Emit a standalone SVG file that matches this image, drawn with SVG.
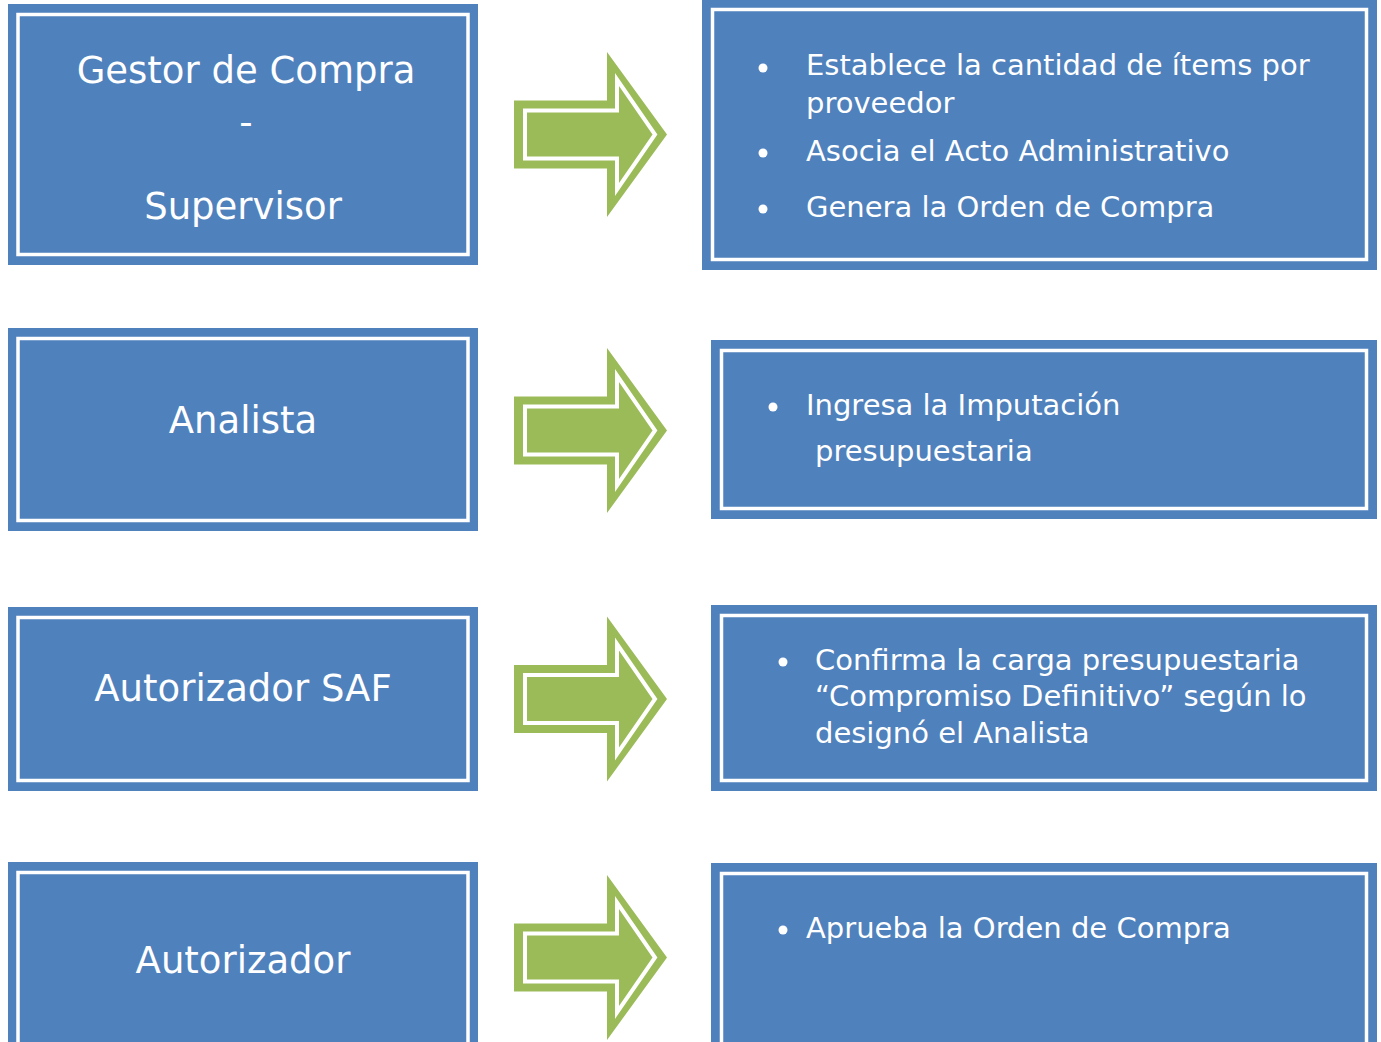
<svg xmlns="http://www.w3.org/2000/svg" xmlns:xlink="http://www.w3.org/1999/xlink" width="1381" height="1042" viewBox="0 0 1381 1042">
<style>
.box{fill:#4F81BD;}
.line{fill:none;stroke:#FFFFFF;stroke-width:3.5;}
.role{font-family:"DejaVu Sans",Verdana,sans-serif;font-size:37px;fill:#FFFFFF;text-anchor:middle;}
.item{font-family:"DejaVu Sans",Verdana,sans-serif;font-size:29px;fill:#FFFFFF;}
.dot{fill:#FFFFFF;}
.arr{fill:#9BBB59;}
.arrline{fill:none;stroke:#FFFFFF;stroke-width:4;stroke-linejoin:miter;}
</style>
<defs>
<g id="arrow">
<polygon class="arr" points="514,-34 607,-34 607,-82.5 667,0 607,82.5 607,34 514,34"/>
<polygon class="arrline" points="525,-24 617,-24 617,-55 655,0 617,55 617,24 525,24"/>
</g>
</defs>
<rect width="1381" height="1042" fill="#FFFFFF"/>

<g id="connectors">
<use xlink:href="#arrow" href="#arrow" transform="translate(0,134.5)"/>
<use xlink:href="#arrow" href="#arrow" transform="translate(0,430.5)"/>
<use xlink:href="#arrow" href="#arrow" transform="translate(0,699)"/>
<use xlink:href="#arrow" href="#arrow" transform="translate(0,957.5)"/>
</g>

<g id="role-gestor">
<rect class="box" x="8" y="4" width="470" height="261"/>
<rect class="line" x="18" y="14.5" width="450" height="240"/>
<text class="role" x="246" y="83">Gestor de Compra</text>
<text class="role" x="246" y="135">-</text>
<text class="role" x="243" y="219">Supervisor</text>
</g>

<g id="role-analista">
<rect class="box" x="8" y="328" width="470" height="203"/>
<rect class="line" x="18" y="338.5" width="450" height="182"/>
<text class="role" x="243" y="433">Analista</text>
</g>

<g id="role-saf">
<rect class="box" x="8" y="607" width="470" height="184"/>
<rect class="line" x="18" y="617.5" width="450" height="163"/>
<text class="role" x="243" y="701">Autorizador SAF</text>
</g>

<g id="role-autorizador">
<rect class="box" x="8" y="862" width="470" height="200"/>
<rect class="line" x="18" y="872.5" width="450" height="180"/>
<text class="role" x="243" y="973">Autorizador</text>
</g>

<g id="tasks-gestor">
<rect class="box" x="702" y="-1" width="675" height="271"/>
<rect class="line" x="712.5" y="9.5" width="654" height="250"/>
<circle class="dot" cx="763" cy="68" r="4.5"/>
<text class="item" x="806" y="75">Establece la cantidad de ítems por</text>
<text class="item" x="806" y="113">proveedor</text>
<circle class="dot" cx="763" cy="153" r="4.5"/>
<text class="item" x="806" y="161">Asocia el Acto Administrativo</text>
<circle class="dot" cx="763" cy="209" r="4.5"/>
<text class="item" x="806" y="217">Genera la Orden de Compra</text>
</g>

<g id="tasks-analista">
<rect class="box" x="711" y="340" width="666" height="179"/>
<rect class="line" x="721.5" y="350.5" width="645" height="158"/>
<circle class="dot" cx="773" cy="407" r="4.5"/>
<text class="item" x="806" y="415">Ingresa la Imputación</text>
<text class="item" x="815" y="461">presupuestaria</text>
</g>

<g id="tasks-saf">
<rect class="box" x="711" y="605" width="666" height="186"/>
<rect class="line" x="721.5" y="615.5" width="645" height="165"/>
<circle class="dot" cx="783" cy="662" r="4.5"/>
<text class="item" x="815" y="670">Confirma la carga presupuestaria</text>
<text class="item" x="815" y="706">“Compromiso Definitivo” según lo</text>
<text class="item" x="815" y="743">designó el Analista</text>
</g>

<g id="tasks-autorizador">
<rect class="box" x="711" y="863" width="666" height="200"/>
<rect class="line" x="721.5" y="873.5" width="645" height="180"/>
<circle class="dot" cx="783" cy="930" r="4.5"/>
<text class="item" x="806" y="938">Aprueba la Orden de Compra</text>
</g>
</svg>
